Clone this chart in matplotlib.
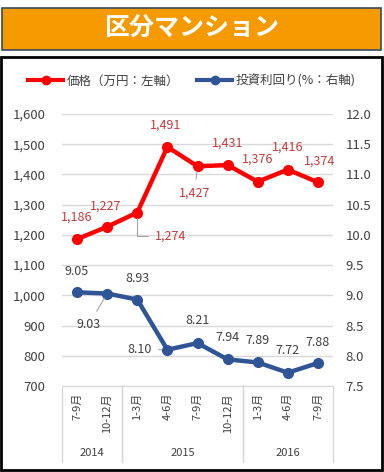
import matplotlib.pyplot as plt
from matplotlib.patches import Rectangle
from matplotlib.lines import Line2D
from matplotlib.transforms import blended_transform_factory

plt.rcParams['font.family'] = ['Noto Sans CJK JP', 'DejaVu Sans']

# data
months = ["7-9月", "10-12月", "1-3月", "4-6月", "7-9月", "10-12月", "1-3月", "4-6月", "7-9月"]
years = ["2014", "2015", "2016"]
year_spans = [(0, 2), (2, 6), (6, 9)]
price = [1186, 1227, 1274, 1491, 1427, 1431, 1376, 1416, 1374]
yield_pct = [9.05, 9.03, 8.93, 8.10, 8.21, 7.94, 7.89, 7.72, 7.88]

# label offsets in points (dx, dy), and leader line style (None = no line)
price_off = [(0, 16), (-1, 15), (24, -17), (-1, 16), (-2, -19), (0, 16), (0, 16), (0, 16), (1, 15)]
price_lead = [None, None, "angle,angleA=0,angleB=90,rad=0", None, "arc3", None, None, None, None]
yield_off = [(0, 15), (-13, -22), (0, 15), (-20, 0), (0, 16), (0, 16), (0, 16), (0, 16), (0, 15)]
yield_lead = [None, "arc3", None, "arc3", None, None, None, None, None]

RED = "#FF0000"
RED_TXT = "#C83A3A"
BLUE = "#2F5597"
GRAY_TXT = "#404040"

W, H = 384, 472
fig = plt.figure(figsize=(W / 100, H / 100), dpi=100)

def px(x, y, w, h):
    return [x / W, 1 - (y + h) / H, w / W, h / H]

# title banner
b = px(2, 8, 379, 42)
fig.patches.append(Rectangle((b[0], b[1]), b[2], b[3], transform=fig.transFigure,
                             facecolor="#F59A00", edgecolor="#3A4A5A", linewidth=1.2,
                             zorder=-2))
fig.text(0.5, 1 - 29 / H, "区分マンション", color="white", fontsize=18, fontweight="bold",
         ha="center", va="center")

# chart frame
c = px(1, 57, 381, 413)
fig.patches.append(Rectangle((c[0], c[1]), c[2], c[3], transform=fig.transFigure,
                             facecolor="white", edgecolor="black", linewidth=2, zorder=-2))

ax = fig.add_axes(px(62, 114, 271, 272))
ax2 = ax.twinx()
ax.patch.set_visible(False)
ax2.patch.set_visible(False)
x = list(range(len(months)))

ax.set_ylim(700, 1600)
ax.set_yticks(range(700, 1601, 100))
ax.set_yticklabels([f"{v:,}" for v in range(700, 1601, 100)])
ax2.set_ylim(7.5, 12.0)
ax2.set_yticks([7.5 + 0.5 * i for i in range(10)])
ax2.set_yticklabels([f"{7.5 + 0.5 * i:.1f}" for i in range(10)])
ax.set_xlim(-0.5, len(months) - 0.5)

for a in (ax, ax2):
    for s in a.spines.values():
        s.set_visible(False)
    a.tick_params(axis="y", length=0, labelsize=9.5, colors=GRAY_TXT)
ax.tick_params(axis="y", pad=12)
ax2.tick_params(axis="y", pad=9)
ax.grid(axis="y", color="#D9D9D9", linewidth=1)
ax.set_axisbelow(True)
ax.spines["bottom"].set_visible(True)
ax.spines["bottom"].set_color("#D9D9D9")

ax.set_xticks(x)
ax.set_xticklabels(months, rotation=90, fontsize=8, color=GRAY_TXT)
ax.tick_params(axis="x", length=0, pad=5)

# category separators and year labels
tr = blended_transform_factory(ax.transData, ax.transAxes)
for s, e in year_spans:
    for xb in (s - 0.5, e - 0.5):
        ax.add_line(Line2D([xb, xb], [0, -76 / 272], transform=tr, color="#D9D9D9",
                           linewidth=1, clip_on=False))
for (s, e), yr in zip(year_spans, years):
    ax.text((s + e - 1) / 2, -67 / 272, yr, transform=tr, ha="center", va="center",
            fontsize=8, color=GRAY_TXT)

ax.plot(x, price, color=RED, linewidth=3.2, marker="o", markersize=7, zorder=3)
ax2.plot(x, yield_pct, color=BLUE, linewidth=3.2, marker="o", markersize=7, zorder=3)

for xi, v, (dx, dy), lead in zip(x, price, price_off, price_lead):
    ax.annotate(f"{v:,}", (xi, v), xytext=(dx, dy), textcoords="offset points",
                ha="center", va="center", fontsize=9, color=RED_TXT,
                arrowprops=dict(arrowstyle="-", color="#A6A6A6", lw=0.8, connectionstyle=lead,
                                shrinkA=3, shrinkB=4) if lead else None)
for xi, v, (dx, dy), lead in zip(x, yield_pct, yield_off, yield_lead):
    ax2.annotate(f"{v:.2f}", (xi, v), xytext=(dx, dy), textcoords="offset points",
                 ha="center", va="center", fontsize=9, color=GRAY_TXT,
                 arrowprops=dict(arrowstyle="-", color="#A6A6A6", lw=0.8, connectionstyle=lead,
                                 shrinkA=3, shrinkB=4) if lead else None)

handles = [Line2D([], [], color=RED, linewidth=3, marker="o", markersize=6),
           Line2D([], [], color=BLUE, linewidth=3, marker="o", markersize=6)]
fig.legend(handles, ["価格（万円：左軸）", "投資利回り(%：右軸)"], loc="center",
           bbox_to_anchor=(0.5, 1 - 81 / H), ncol=2, frameon=False, fontsize=9,
           handlelength=2.8, columnspacing=1.4, handletextpad=0.3, labelcolor=GRAY_TXT)

fig.savefig("out.png", dpi=100)
